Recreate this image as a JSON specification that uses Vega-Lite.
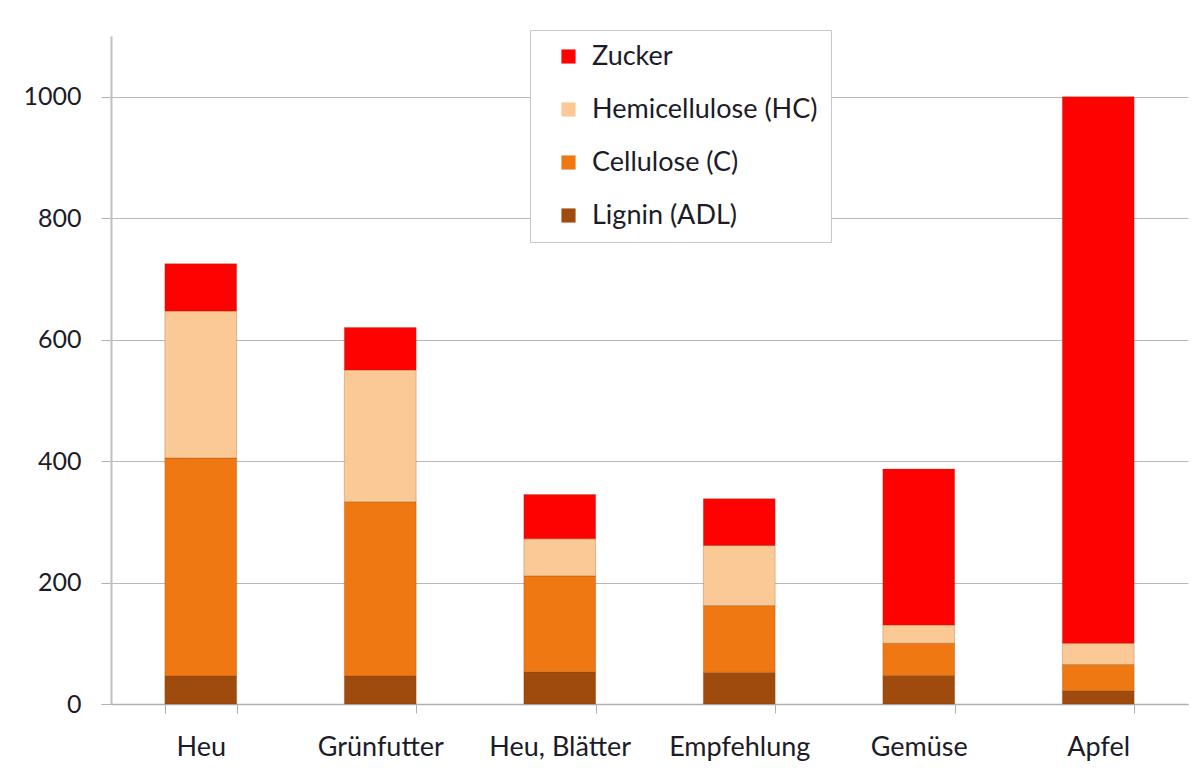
{
  "$schema": "https://vega.github.io/schema/vega-lite/v6.json",
  "autosize": "none",
  "width": 1077,
  "height": 668,
  "padding": {"left": 111, "top": 36, "right": 6, "bottom": 72},
  "background": "white",
  "data": {
    "values": [
      {"Kategorie": "Heu", "Komponente": "Lignin (ADL)", "Wert": 46, "k": 1},
      {"Kategorie": "Heu", "Komponente": "Cellulose (C)", "Wert": 359, "k": 2},
      {"Kategorie": "Heu", "Komponente": "Hemicellulose (HC)", "Wert": 242, "k": 3},
      {"Kategorie": "Heu", "Komponente": "Zucker", "Wert": 78, "k": 4},
      {"Kategorie": "Grünfutter", "Komponente": "Lignin (ADL)", "Wert": 46, "k": 1},
      {"Kategorie": "Grünfutter", "Komponente": "Cellulose (C)", "Wert": 287, "k": 2},
      {"Kategorie": "Grünfutter", "Komponente": "Hemicellulose (HC)", "Wert": 217, "k": 3},
      {"Kategorie": "Grünfutter", "Komponente": "Zucker", "Wert": 70, "k": 4},
      {"Kategorie": "Heu, Blätter", "Komponente": "Lignin (ADL)", "Wert": 53, "k": 1},
      {"Kategorie": "Heu, Blätter", "Komponente": "Cellulose (C)", "Wert": 158, "k": 2},
      {"Kategorie": "Heu, Blätter", "Komponente": "Hemicellulose (HC)", "Wert": 61, "k": 3},
      {"Kategorie": "Heu, Blätter", "Komponente": "Zucker", "Wert": 73, "k": 4},
      {"Kategorie": "Empfehlung", "Komponente": "Lignin (ADL)", "Wert": 52, "k": 1},
      {"Kategorie": "Empfehlung", "Komponente": "Cellulose (C)", "Wert": 110, "k": 2},
      {"Kategorie": "Empfehlung", "Komponente": "Hemicellulose (HC)", "Wert": 99, "k": 3},
      {"Kategorie": "Empfehlung", "Komponente": "Zucker", "Wert": 77, "k": 4},
      {"Kategorie": "Gemüse", "Komponente": "Lignin (ADL)", "Wert": 47, "k": 1},
      {"Kategorie": "Gemüse", "Komponente": "Cellulose (C)", "Wert": 53, "k": 2},
      {"Kategorie": "Gemüse", "Komponente": "Hemicellulose (HC)", "Wert": 30, "k": 3},
      {"Kategorie": "Gemüse", "Komponente": "Zucker", "Wert": 257, "k": 4},
      {"Kategorie": "Apfel", "Komponente": "Lignin (ADL)", "Wert": 22, "k": 1},
      {"Kategorie": "Apfel", "Komponente": "Cellulose (C)", "Wert": 43, "k": 2},
      {"Kategorie": "Apfel", "Komponente": "Hemicellulose (HC)", "Wert": 35, "k": 3},
      {"Kategorie": "Apfel", "Komponente": "Zucker", "Wert": 900, "k": 4}
    ]
  },
  "mark": {"type": "bar", "stroke": "#7a3a08", "strokeOpacity": 0.25, "strokeWidth": 1},
  "encoding": {
    "x": {
      "field": "Kategorie",
      "type": "nominal",
      "sort": null,
      "scale": {"paddingInner": 0.6, "paddingOuter": 0.3},
      "axis": {
        "title": null,
        "labelAngle": 0,
        "labelFont": "Lato",
        "labelFontSize": 27,
        "labelColor": "#1c1c28",
        "labelPadding": 21,
        "domainColor": "#b0b0b0",
        "domainWidth": 1.5,
        "tickColor": "#b0b0b0",
        "tickSize": 9,
        "tickBand": "extent",
        "grid": false
      }
    },
    "y": {
      "field": "Wert",
      "type": "quantitative",
      "stack": "zero",
      "scale": {"domain": [0, 1100], "nice": false},
      "axis": {
        "title": null,
        "values": [0, 200, 400, 600, 800, 1000],
        "format": "d",
        "labelFont": "Lato",
        "labelFontSize": 25,
        "labelColor": "#1c1c28",
        "labelPadding": 20,
        "tickSize": 10,
        "tickColor": "#b0b0b0",
        "domainColor": "#c0c0c0",
        "domainWidth": 2,
        "grid": true,
        "gridColor": "#b8b8b8",
        "gridWidth": 1
      }
    },
    "color": {
      "field": "Komponente",
      "type": "nominal",
      "scale": {
        "domain": ["Zucker", "Hemicellulose (HC)", "Cellulose (C)", "Lignin (ADL)"],
        "range": ["#fe0202", "#fbc996", "#ef7812", "#9e4b0d"]
      },
      "legend": {
        "title": null,
        "orient": "none",
        "legendX": 419,
        "legendY": -6,
        "fillColor": "white",
        "strokeColor": "#c8c8c8",
        "padding": 13,
        "symbolOffset": 12,
        "symbolType": "square",
        "symbolSize": 200,
        "symbolStrokeWidth": 0,
        "labelFont": "Lato",
        "labelFontSize": 27,
        "labelColor": "#1c1c28",
        "labelOffset": 10,
        "rowPadding": 25,
        "labelLimit": 400
      }
    },
    "order": {"field": "k", "type": "quantitative", "sort": "ascending"}
  },
  "config": {
    "view": {"stroke": null}
  }
}
